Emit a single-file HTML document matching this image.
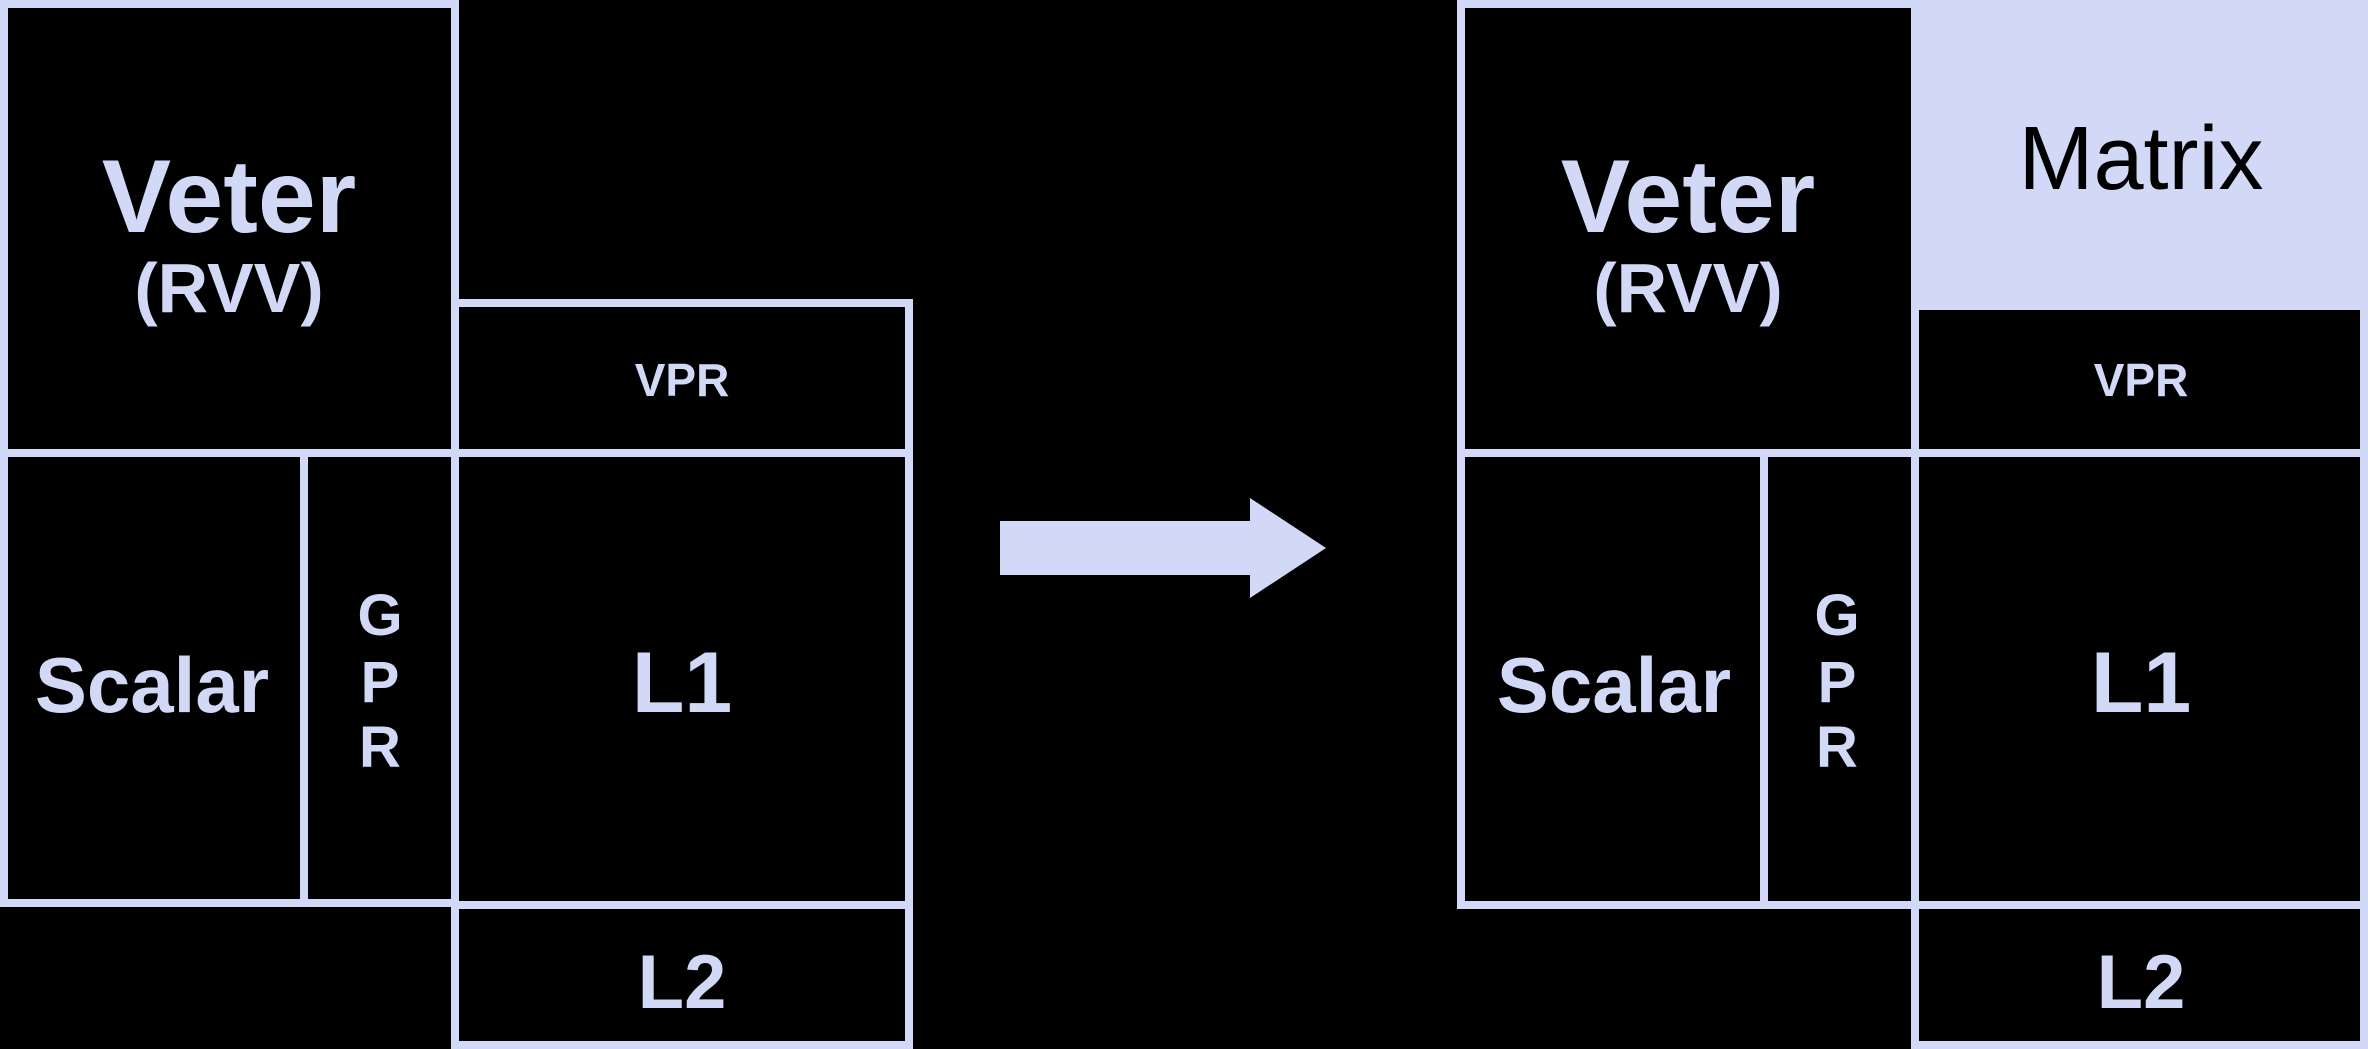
<!DOCTYPE html>
<html><head><style>html,body{margin:0;padding:0;background:#000;}svg{display:block}</style></head>
<body>
<svg width="2368" height="1049" viewBox="0 0 2368 1049" xmlns="http://www.w3.org/2000/svg">
<rect width="2368" height="1049" fill="#000"/>
<g stroke="#d1d9f7" stroke-width="8" fill="none">
  <rect x="4" y="4" width="451" height="449"/>
  <line x1="0" y1="903" x2="455" y2="903"/>
  <line x1="4" y1="453" x2="4" y2="903"/>
  <line x1="304" y1="453" x2="304" y2="903"/>
  <line x1="455" y1="300" x2="455" y2="1049"/>
  <line x1="455" y1="303" x2="909" y2="303"/>
  <line x1="909" y1="299" x2="909" y2="1049"/>
  <line x1="455" y1="453" x2="909" y2="453"/>
  <line x1="455" y1="905" x2="909" y2="905"/>
  <line x1="455" y1="1045" x2="909" y2="1045"/>
  <rect x="1461" y="4" width="454" height="449"/>
  <line x1="1461" y1="453" x2="1461" y2="905"/>
  <line x1="1457" y1="905" x2="1915" y2="905"/>
  <line x1="1764" y1="453" x2="1764" y2="905"/>
  <line x1="1915" y1="0" x2="1915" y2="1049"/>
  <line x1="2364" y1="0" x2="2364" y2="1049"/>
  <line x1="1915" y1="453" x2="2368" y2="453"/>
  <line x1="1915" y1="905" x2="2368" y2="905"/>
  <line x1="1915" y1="1045" x2="2368" y2="1045"/>
</g>
<rect x="1915" y="0" width="453" height="310" fill="#d1d9f7"/>
<polygon points="1000,521 1250,521 1250,498 1326,548 1250,598 1250,575 1000,575" fill="#d1d9f7"/>
<g fill="#d1d9f7" font-family="'Liberation Sans', sans-serif" font-weight="bold" text-anchor="middle">
  <text x="229" y="232" font-size="104">Veter</text>
  <text x="229" y="312" font-size="70">(RVV)</text>
  <text x="682" y="396" font-size="46">VPR</text>
  <text x="152" y="712" font-size="78">Scalar</text>
  <text x="380" y="635" font-size="58">G</text>
  <text x="380" y="702" font-size="58">P</text>
  <text x="380" y="767" font-size="58">R</text>
  <text x="682" y="712" font-size="86">L1</text>
  <text x="682" y="1008" font-size="76">L2</text>

  <text x="1688" y="232" font-size="104">Veter</text>
  <text x="1688" y="312" font-size="70">(RVV)</text>
  <text x="2141" y="396" font-size="46">VPR</text>
  <text x="1614" y="712" font-size="78">Scalar</text>
  <text x="1837" y="635" font-size="58">G</text>
  <text x="1837" y="702" font-size="58">P</text>
  <text x="1837" y="767" font-size="58">R</text>
  <text x="2141" y="712" font-size="86">L1</text>
  <text x="2141" y="1008" font-size="76">L2</text>
</g>
<text x="2141" y="189" font-size="90" fill="#000" text-anchor="middle" font-family="'Liberation Sans', sans-serif">Matrix</text>
</svg>
</body></html>
